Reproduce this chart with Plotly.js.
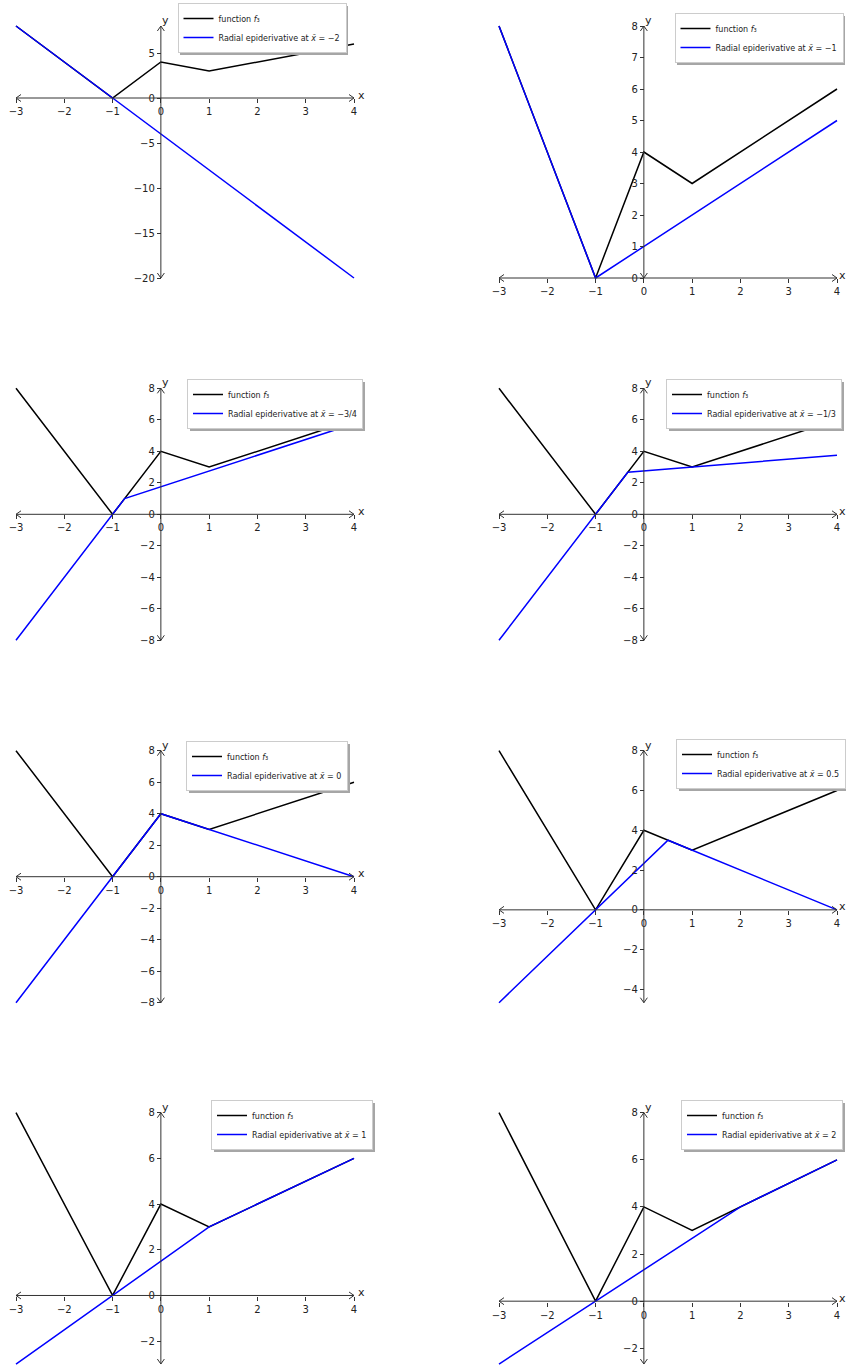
<!DOCTYPE html>
<html><head><meta charset="utf-8">
<script src="https://cdn.plot.ly/plotly-3.0.1.min.js"></script>
<style>html,body{margin:0;padding:0;background:#fff;} #chart{width:846px;height:1372px;}</style>
</head><body><div id="chart"></div>
<script>
// ---- data ----
const fX = [-3, -1, 0, 1, 4];
const fY = [8, 0, 4, 3, 6];
const xbarLabels = ['\u22122', '\u22121', '\u22123/4', '\u22121/3', '0', '0.5', '1', '2'];
const epiX1 = [-3, -1, 4];           const epiY1 = [8, 0, -20];
const epiX2 = [-3, -1, 4];           const epiY2 = [8, 0, 5];
const epiX3 = [-3, -1, -0.75, 4];    const epiY3 = [-8, 0, 1, 5.75];
const epiX4 = [-3, -1, -0.333, 4];   const epiY4 = [-8, 0, 2.667, 3.75];
const epiX5 = [-3, -1, 0, 4];        const epiY5 = [-8, 0, 4, 0];
const epiX6 = [-3, -1, 0.5, 4];      const epiY6 = [-4.667, 0, 3.5, 0];
const epiX7 = [-3, -1, 1, 4];        const epiY7 = [-3, 0, 3, 6];
const epiX8 = [-3, -1, 2, 4];        const epiY8 = [-2.667, 0, 4, 6];
const epiXs = [epiX1, epiX2, epiX3, epiX4, epiX5, epiX6, epiX7, epiX8];
const epiYs = [epiY1, epiY2, epiY3, epiY4, epiY5, epiY6, epiY7, epiY8];
const xTickVals = [-3, -2, -1, 0, 1, 2, 3, 4];
const yDticks = [5, 1, 2, 2, 2, 2, 2, 2];

// ---- layout config ----
const W = 846, H = 1372;
const colLeft = [16, 499], plotW = 338;
const rowTop = [26, 388.3, 750.7, 1112.7], plotH = 252;
const PAD = 8; // extra px around the data box so arrowheads / line ends are not clipped
const legendPos = [[262, 3], [759, 13], [275, 379], [754, 379], [267, 741], [761, 739], [292, 1100], [762, 1100]];
const FONT = 'DejaVu Sans';
const AXC = '#333333';
const IT = '<span style="font-style:italic;font-size:8px">';

const gd = document.getElementById('chart');
const traces = [];
const layout = {
  width: W, height: H, margin: {l: 0, r: 0, t: 0, b: 0, autoexpand: false},
  paper_bgcolor: '#ffffff', plot_bgcolor: '#ffffff',
  showlegend: true, annotations: [], shapes: [], font: {family: FONT, color: '#222'}
};

for (let i = 0; i < 8; i++) {
  const r = Math.floor(i / 2), c = i % 2;
  const sfx = i === 0 ? '' : String(i + 1);
  const xa = 'x' + sfx, ya = 'y' + sfx, lg = 'legend' + sfx;
  const ex = epiXs[i], ey = epiYs[i];
  const allX = fX.concat(ex), allY = fY.concat(ey);
  const xr = [Math.min(...allX), Math.max(...allX)];
  const yr = [Math.min(...allY), Math.max(...allY)];
  const xpu = (xr[1] - xr[0]) / plotW, ypu = (yr[1] - yr[0]) / plotH;
  const xrP = [xr[0] - PAD * xpu, xr[1] + PAD * xpu];
  const yrP = [yr[0] - PAD * ypu, yr[1] + PAD * ypu];
  const xd = [(colLeft[c] - PAD) / W, (colLeft[c] + plotW + PAD) / W];
  const yd = [1 - (rowTop[r] + plotH + PAD) / H, 1 - (rowTop[r] - PAD) / H];

  traces.push({x: fX, y: fY, xaxis: xa, yaxis: ya, mode: 'lines', legend: lg,
    name: 'function ' + IT + 'f</span>\u2083', line: {color: '#000000', width: 1.5}});
  traces.push({x: ex, y: ey, xaxis: xa, yaxis: ya, mode: 'lines', legend: lg,
    name: 'Radial epiderivative at ' + IT + 'x\u0304</span> = ' + xbarLabels[i], line: {color: '#0000ff', width: 1.5}});

  const common = {showline: false, zeroline: false, showgrid: false, ticks: 'outside', ticklen: 4,
    tickwidth: 1, tickcolor: AXC, tickfont: {family: FONT, size: 10, color: '#222'}, fixedrange: true};
  layout['xaxis' + sfx] = Object.assign({}, common, {
    domain: xd, range: xrP, anchor: 'free',
    position: yd[0] + (0 - yrP[0]) / (yrP[1] - yrP[0]) * (yd[1] - yd[0]),
    tickmode: 'array', tickvals: xTickVals
  });
  layout['yaxis' + sfx] = Object.assign({}, common, {
    domain: yd, range: yrP, anchor: 'free',
    position: xd[0] + (0 - xrP[0]) / (xrP[1] - xrP[0]) * (xd[1] - xd[0]),
    tickmode: 'linear', tick0: 0, dtick: yDticks[i]
  });
  layout[lg] = {
    x: legendPos[i][0] / W, y: 1 - legendPos[i][1] / H, xanchor: 'center', yanchor: 'top',
    xref: 'paper', yref: 'paper', bgcolor: '#ffffff', bordercolor: '#cccccc', borderwidth: 1,
    font: {family: FONT, size: 8, color: '#222'}
  };
  // axis lines through the origin
  const ln = {color: AXC, width: 1};
  layout.shapes.push({type: 'line', xref: xa, yref: ya, x0: xr[0], x1: xr[1], y0: 0, y1: 0, line: ln});
  layout.shapes.push({type: 'line', xref: xa, yref: ya, x0: 0, x1: 0, y0: yr[0], y1: yr[1], line: ln});
  // open arrowheads at both ends of each axis line
  const head = function (ax, ay, path) {
    return {type: 'path', xref: xa, yref: ya, xsizemode: 'pixel', ysizemode: 'pixel',
      xanchor: ax, yanchor: ay, path: path, line: ln, fillcolor: 'rgba(0,0,0,0)'};
  };
  layout.shapes.push(head(xr[1], 0, 'M-5,3.5L0,0L-5,-3.5'));
  layout.shapes.push(head(xr[0], 0, 'M5,3.5L0,0L5,-3.5'));
  layout.shapes.push(head(0, yr[1], 'M-3.5,-5L0,0L3.5,-5'));
  layout.shapes.push(head(0, yr[0], 'M-3.5,5L0,0L3.5,5'));
  layout.annotations.push({xref: xa, yref: ya, x: xr[1], y: 0, text: 'x', showarrow: false,
    xanchor: 'left', yanchor: 'middle', xshift: c === 0 ? 2 : 0, yshift: 3, font: {family: FONT, size: 11, color: '#222'}});
  layout.annotations.push({xref: xa, yref: ya, x: 0, y: yr[1], text: 'y', showarrow: false,
    xanchor: 'left', yanchor: 'bottom', xshift: -1, yshift: -3, font: {family: FONT, size: 11, color: '#222'}});
}

Plotly.newPlot(gd, traces, layout, {staticPlot: true, displayModeBar: false}).then(function () {
  // matplotlib-style drop shadow behind each legend box
  gd.querySelectorAll('.infolayer rect.bg').forEach(function (bg) {
    if (bg.closest('.annotation')) return;
    const sh = bg.cloneNode(false);
    sh.setAttribute('class', 'legend-shadow');
    sh.style.fill = '#a6a6a6';
    sh.style.stroke = 'none';
    sh.style.strokeWidth = '0';
    const t = bg.getAttribute('transform') || '';
    sh.setAttribute('transform', t + ' translate(2,2)');
    bg.parentNode.insertBefore(sh, bg);
  });
});
</script>
</body></html>
